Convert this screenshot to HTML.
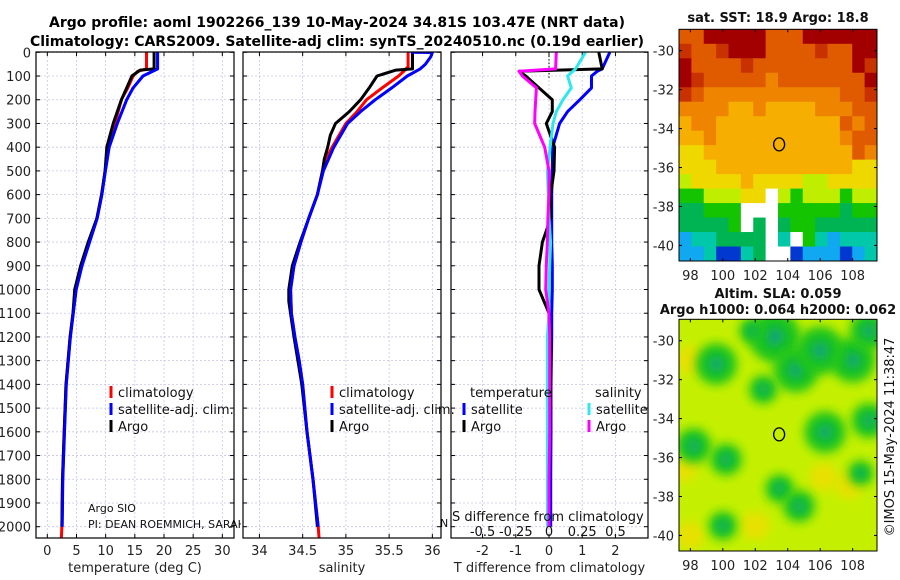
<!DOCTYPE html>
<html><head><meta charset="utf-8"><style>
html,body{margin:0;padding:0;background:#fff;}
svg{display:block;font-family:"DejaVu Sans","Liberation Sans",sans-serif;}
</style></head><body>
<svg id="fig" width="900" height="580" viewBox="0 0 900 580">
<defs>
<clipPath id="c1"><rect x="36" y="52" width="198" height="486"/></clipPath>
<clipPath id="c2"><rect x="243" y="52" width="198" height="486"/></clipPath>
<clipPath id="c3"><rect x="451" y="52" width="197" height="486"/></clipPath>
<clipPath id="cm2"><rect x="679" y="319" width="198" height="232"/></clipPath>
<filter id="blur" x="-50%" y="-50%" width="200%" height="200%"><feGaussianBlur stdDeviation="5"/></filter>
</defs>
<text x="337" y="27" text-anchor="middle" font-size="14" font-weight="bold">Argo profile: aoml 1902266_139 10-May-2024 34.81S 103.47E (NRT data)</text>
<text x="337" y="46" text-anchor="middle" font-size="14" font-weight="bold">Climatology: CARS2009. Satellite-adj clim: synTS_20240510.nc (0.19d earlier)</text>
<g id="g"></g>
</svg>
<script>
// ---------- profile data ----------
const depthClimT = [0,70,80,100,150,200,300,400,500,600,700,800,900,1000,1100,1200,1400,1600,1800,2000,2050];
const tempClim   = [17.0,17.0,15.5,14.7,13.8,12.7,11.6,10.4,9.9,9.3,8.5,7.2,5.9,4.9,4.4,3.9,3.2,2.9,2.6,2.5,2.4];
const depthSatT  = [0,60,70,100,150,200,300,400,500,600,700,800,900,1000,1100,1200,1400,1600,1800,2000];
const tempSat    = [18.9,18.9,18.9,16.4,14.7,13.6,12.0,10.6,9.95,9.35,8.55,7.25,5.95,4.95,4.45,3.95,3.25,2.95,2.65,2.55];
const depthArgoT = [0,70,75,100,150,200,300,400,500,600,700,800,900,1000,1100,1200,1400,1600,1800,2000];
const tempArgo   = [18.3,18.3,15.9,14.5,13.6,12.7,11.3,10.2,9.9,9.3,8.5,7.0,5.7,4.7,4.4,3.9,3.2,2.9,2.6,2.5];

const depthClimS = [0,60,80,100,150,200,250,300,400,450,500,600,700,800,900,1000,1100,1200,1300,1400,1600,1800,2000,2050];
const salClim    = [35.72,35.72,35.67,35.61,35.42,35.24,35.13,35.0,34.84,34.77,34.73,34.67,34.57,34.48,34.40,34.36,34.37,34.41,34.46,34.50,34.55,34.62,34.68,34.69];
const depthSatS  = [0,1,20,50,70,100,150,200,250,300,400,500,600,700,800,900,1000,1100,1200,1300,1400,1600,1800,2000];
const salSat     = [35.75,36.0,35.98,35.92,35.86,35.71,35.53,35.34,35.17,35.02,34.86,34.74,34.67,34.57,34.48,34.40,34.36,34.37,34.41,34.46,34.50,34.55,34.62,34.68];
const depthArgoS = [0,70,75,100,150,200,250,300,350,400,450,500,600,800,900,1000,1050,1200,1400,1600,1800,2000];
const salArgo    = [35.77,35.77,35.58,35.36,35.27,35.17,35.04,34.88,34.82,34.79,34.75,34.73,34.67,34.47,34.38,34.34,34.34,34.40,34.49,34.55,34.62,34.67];

// differences: T in deg C, S in psu
const depthDiff  = [0,70,80,100,150,200,250,300,400,500,600,700,800,900,1000,1100,1200,1400,1600,1800,2000];
const dTempSat   = [1.83,1.6,1.45,1.28,1.28,0.93,0.56,0.32,0.11,0.1,0.08,0.08,0.08,0.1,0.1,0.08,0.08,0.06,0.06,0.05,0.05];
const dTempArgo  = [1.5,1.6,-0.9,-0.7,-0.3,0.1,0.1,-0.08,0.17,0.15,0.05,0.05,-0.2,-0.3,-0.3,0.0,0.05,0.05,0.02,0.0,0.0];
const dSalSat    = [0.275,0.2,0.18,0.14,0.168,0.105,0.055,0.03,0.008,-0.012,-0.005,0.0,0.012,0.005,0.0,0.0,-0.012,-0.012,-0.012,-0.012,-0.012];
const dSalArgo   = [0.055,0.05,-0.225,-0.2,-0.095,-0.1,-0.105,-0.108,-0.032,0.0,0.0,-0.008,-0.012,-0.02,-0.025,0.0,0.005,0.005,0.005,0.0,0.0];

const depthTicks = [0,100,200,300,400,500,600,700,800,900,1000,1100,1200,1300,1400,1500,1600,1700,1800,1900,2000];
const tempTicks = [0,5,10,15,20,25,30];
const salTicks = [34,34.5,35,35.5,36];
const salTickLabels = ['34','34.5','35','35.5','36'];
const diffTicks = [-2,-1,0,1,2];
const sDiffTickLabels = ['-0.5','-0.25','0','0.25','0.5'];
const sDiffTicks = [-0.5,-0.25,0,0.25,0.5];

// ---------- map data ----------
const latTicks = [-30,-32,-34,-36,-38,-40];
const lonTicks = [98,100,102,104,106,108];
const sstRows = [
"OORRRRROOORRRRRR",
"rOOrRRROOOOrOORR",
"ROOOOrOOOOOOOORr",
"RrOOOOOoOOOOOOOR",
"rOoooooooooooOOr",
"ooooYYoYYYYoooOO",
"YooYYYYYYYYYYOoO",
"YYoYYYYYYYYYYoOO",
"yyYYYYYYYYYYYYOo",
"yyyYYYYYYYYYYYyy",
"LyyyyYyyyyLLyyyy",
"GGLLLyyWLGLLLGLL",
"ggGGGWWWGGGGGgGG",
"ggggGWgWgGGggggg",
"CTTggggWTWGTCTTT",
"CCTBBTgWWBCCCBCT"];
const slaBlobLon = [99.6,98.2,100.2,103.5,104.7,100.0,106.3,109.0,108.0,103.2,104.5,106.0,108.5,101.8,102.5,109.0];
const slaBlobLat = [-31.2,-35.4,-36.1,-37.6,-38.5,-39.5,-34.7,-34.1,-31.0,-29.8,-31.5,-30.5,-36.8,-29.5,-32.5,-29.5];
const slaBlobR   = [1.3,1.1,1.0,0.9,1.0,0.9,1.3,1.1,1.4,1.6,1.4,1.5,0.8,0.8,0.9,1.2];

const NS='http://www.w3.org/2000/svg';
const G=document.getElementById('g');
function el(tag,attrs,parent){const e=document.createElementNS(NS,tag);for(const k in attrs)e.setAttribute(k,attrs[k]);(parent||G).appendChild(e);return e;}

const Y0=52.3, PPY=0.2372;
function yD(d){return Y0+d*PPY;}
const panels=[
 {x0:36,x1:234,vmin:-1.94,vmax:32,clip:'c1'},
 {x0:243,x1:441,vmin:33.81,vmax:36.1,clip:'c2'},
 {x0:451,x1:648,vmin:-2.95,vmax:2.98,clip:'c3'}];
function xP(p,v){return p.x0+(v-p.vmin)/(p.vmax-p.vmin)*(p.x1-p.x0);}

function drawPanel(p,ticks,labels,xlabel,name,showY){
  const g=el('g',{});
  
  
  depthTicks.forEach(d=>{
    const y=yD(d);
    const gl=el('line',{x1:p.x0,x2:p.x1,y1:y,y2:y,stroke:'#c6c6e6','stroke-width':0.8,'stroke-dasharray':'2,2'},g);
    
    
    el('line',{x1:p.x0,x2:p.x0+4,y1:y,y2:y,stroke:'#000'},g);
    el('line',{x1:p.x1-4,x2:p.x1,y1:y,y2:y,stroke:'#000'},g);
    if(showY){const t=el('text',{x:31,y:y+5,'text-anchor':'end','font-size':13,fill:'#222'},g);t.textContent=d;
      
      }
  });
  ticks.forEach((v,i)=>{
    const x=xP(p,v);
    const gl=el('line',{x1:x,x2:x,y1:52,y2:538,stroke:'#c6c6e6','stroke-width':0.8,'stroke-dasharray':'2,2'},g);
    
    
    el('line',{x1:x,x2:x,y1:538,y2:534,stroke:'#000'},g);
    el('line',{x1:x,x2:x,y1:52,y2:56,stroke:'#000'},g);
    const t=el('text',{x:x,y:555,'text-anchor':'middle','font-size':13,fill:'#222'},g);t.textContent=labels[i];
    
    
  });
  const xl=el('text',{x:(p.x0+p.x1)/2,y:572,'text-anchor':'middle','font-size':13,fill:'#222'},g);xl.textContent=xlabel;
  
  
  return g;
}
function series(p,depths,vals,color,w,name,scale){
  const pts=depths.map((d,i)=>xP(p,vals[i]*(scale||1)).toFixed(1)+','+yD(d).toFixed(1)).join(' ');
  const l=el('polyline',{points:pts,fill:'none',stroke:color,'stroke-width':w,'stroke-linejoin':'round','clip-path':'url(#'+p.clip+')'});
  
  
}
const p1=panels[0],p2=panels[1],p3=panels[2];
drawPanel(p1,tempTicks,tempTicks.map(String),'temperature (deg C)','temperature-panel',true);
drawPanel(p2,salTicks,salTickLabels,'salinity','salinity-panel',false);
drawPanel(p3,diffTicks,diffTicks.map(String),'T difference from climatology','difference-panel',false);

series(p1,depthClimT,tempClim,'#f00',3,'temp-climatology-line');
series(p1,depthSatT,tempSat,'#00f',3,'temp-satellite-line');
series(p1,depthArgoT,tempArgo,'#000',3,'temp-argo-line');
series(p1,depthSatT,tempSat,'#00f',2.6,'temp-satellite-line-top');
series(p2,depthClimS,salClim,'#f00',3,'sal-climatology-line');
series(p2,depthArgoS,salArgo,'#000',3,'sal-argo-line');
series(p2,depthSatS,salSat,'#00f',3,'sal-satellite-line');

const zl=el('line',{x1:xP(p3,0),x2:xP(p3,0),y1:52,y2:yD(110),stroke:'#000','stroke-width':1,'stroke-dasharray':'1.5,2'});


series(p3,depthDiff,dTempSat,'#00f',3,'tdiff-satellite-line');
series(p3,depthDiff,dTempArgo,'#000',3,'tdiff-argo-line');
series(p3,depthDiff,dSalSat,'#2ee8ee',3,'sdiff-satellite-line',4);
series(p3,depthDiff,dSalArgo,'#f0f',3,'sdiff-argo-line',4);

function txt(x,y,s,size,name,anchor,extra){const t=el('text',Object.assign({x:x,y:y,'font-size':size,fill:'#111','text-anchor':anchor||'start'},extra||{}));t.textContent=s;
  
  return t;}
const cp=el('clipPath',{id:'cpi'});el('rect',{x:0,y:0,width:241,height:580},cp);
txt(88,512,'Argo SIO',11,'float-institution-note');
const pi=txt(88,528,'PI: DEAN ROEMMICH, SARAH',11,'principal-investigator-note');
pi.setAttribute('clip-path','url(#cpi)');
txt(440,527,'N',11,'clipped-text-fragment');
txt(452,521,'S difference from climatology',13,'salinity-difference-title');
sDiffTicks.forEach((v,i)=>{txt(xP(p3,v*4),536,sDiffTickLabels[i],13,'salinity-diff-tick-label','middle');});

panels.forEach((p,i)=>{const r=el('rect',{x:p.x0,y:52,width:p.x1-p.x0,height:486,fill:'none',stroke:'#000','stroke-width':1.2});
  
  });

function legItem(x,y,color,label,name){
  const m=el('line',{x1:x,x2:x,y1:y-11,y2:y+1,stroke:color,'stroke-width':3});
  
  
  txt(x+7,y,label,13,name);}
legItem(111,397,'#f00','climatology','legend-climatology');
legItem(111,414,'#00f','satellite-adj. clim.','legend-satellite-adj');
legItem(111,431,'#000','Argo','legend-argo');
legItem(332,397,'#f00','climatology','legend-sal-climatology');
legItem(332,414,'#00f','satellite-adj. clim.','legend-sal-satellite-adj');
legItem(332,431,'#000','Argo','legend-sal-argo');
txt(470,397,'temperature',13,'legend-temperature-heading');
legItem(464,414,'#00f','satellite','legend-tdiff-satellite');
legItem(464,431,'#000','Argo','legend-tdiff-argo');
txt(595,397,'salinity',13,'legend-salinity-heading');
legItem(589,414,'#2ee8ee','satellite','legend-sdiff-satellite');
legItem(589,431,'#f0f','Argo','legend-sdiff-argo');

// ---------- maps ----------
const MX0=679,MX1=877,LON0=97.3,LON1=109.5;
function xL(lon){return MX0+(lon-LON0)/(LON1-LON0)*(MX1-MX0);}
const m1={y0:29.3,y1:261,lat0:-28.9,lat1:-40.8};
const m2={y0:319.3,y1:551,lat0:-28.9,lat1:-40.8};
function yL(m,lat){return m.y0+(lat-m.lat0)/(m.lat1-m.lat0)*(m.y1-m.y0);}
const palette={R:'#a20000',r:'#c83200',O:'#e05a00',o:'#ee8400',Y:'#f6ae00',y:'#eed800',L:'#c0ee00',G:'#14c400',g:'#00b454',T:'#00c8a8',C:'#10a8f0',B:'#0038d0',N:'#000090',W:'#ffffff'};
const sst=el('g',{});


const nr=sstRows.length,nc=sstRows[0].length;
const cw=(MX1-MX0)/nc,chh=(m1.y1-m1.y0)/nr;
sstRows.forEach((row,r)=>{for(let c=0;c<nc;c++){
  const cell=el('rect',{x:MX0+c*cw,y:m1.y0+r*chh,width:cw+0.5,height:chh+0.5,fill:palette[row[c]]||'#fff'},sst);
  
  }});
const sla=el('g',{'clip-path':'url(#cm2)'});


el('rect',{x:MX0,y:m2.y0,width:MX1-MX0,height:m2.y1-m2.y0,fill:'#c4f000'},sla);
const ybl=[[98,-31],[97.6,-36.5],[102,-39.5],[107.8,-37.4],[106.2,-37],[98,-40]];
ybl.forEach(b=>{el('ellipse',{cx:xL(b[0]),cy:yL(m2,b[1]),rx:14,ry:14,fill:'#e8e000',filter:'url(#blur)'},sla);});
slaBlobLon.forEach((lon,i)=>{
  const e=el('ellipse',{cx:xL(lon),cy:yL(m2,slaBlobLat[i]),rx:slaBlobR[i]*16,ry:slaBlobR[i]*16,fill:'#1ec41e',filter:'url(#blur)'},sla);
  
  
  el('ellipse',{cx:xL(lon),cy:yL(m2,slaBlobLat[i]),rx:slaBlobR[i]*6,ry:slaBlobR[i]*6,fill:'#10a878',filter:'url(#blur)'},sla);
});
[m1,m2].forEach((m,k)=>{
  const fr=el('rect',{x:MX0,y:m.y0,width:MX1-MX0,height:m.y1-m.y0,fill:'none',stroke:'#000','stroke-width':1});
  
  
  latTicks.forEach(la=>{const y=yL(m,la);
    el('line',{x1:MX0,x2:MX0+3,y1:y,y2:y,stroke:'#000'});el('line',{x1:MX1-3,x2:MX1,y1:y,y2:y,stroke:'#000'});
    txt(674,y+5,String(la),13,'latitude-tick-label','end',{fill:'#222'});});
  lonTicks.forEach(lo=>{const x=xL(lo);
    el('line',{x1:x,x2:x,y1:m.y1,y2:m.y1-3,stroke:'#000'});el('line',{x1:x,x2:x,y1:m.y0,y2:m.y0+3,stroke:'#000'});
    txt(x,m.y1+19,String(lo),13,'longitude-tick-label','middle',{fill:'#222'});});
  const c=el('ellipse',{cx:xL(103.47),cy:yL(m,-34.81),rx:5.5,ry:6.5,fill:'none',stroke:'#000','stroke-width':1.3});
  
  
});
txt(778,22,'sat. SST: 18.9 Argo: 18.8',13,'sst-map-title','middle',{'font-weight':'bold'});
txt(778,298,'Altim. SLA: 0.059',13,'sla-map-title','middle',{'font-weight':'bold'});
txt(778,314,'Argo h1000: 0.064 h2000: 0.062',13,'sla-map-subtitle','middle',{'font-weight':'bold'});
txt(0,0,'©IMOS 15-May-2024 11:38:47',13,'imos-credit','middle',{transform:'translate(894,437) rotate(-90)'});
</script>
</body></html>
